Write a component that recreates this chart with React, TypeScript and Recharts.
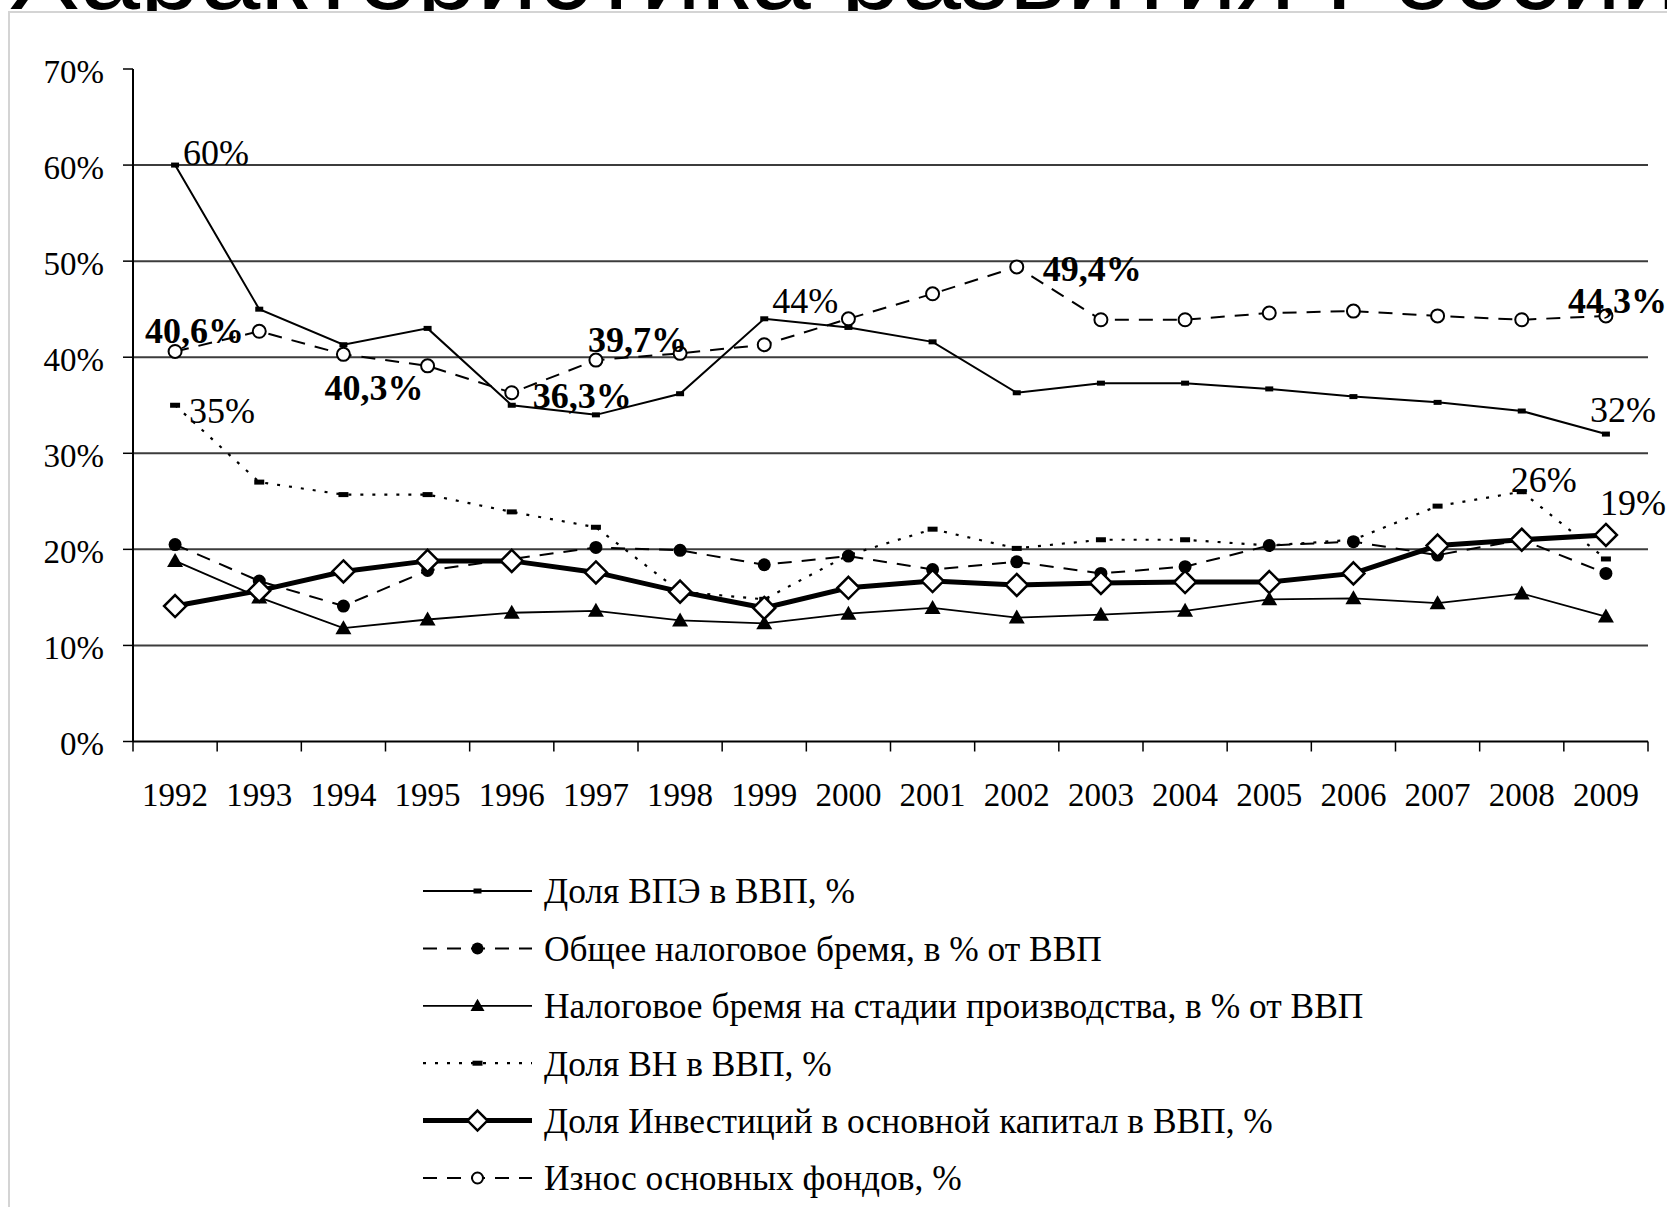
import React from 'react';
import { LineChart, Line, XAxis, YAxis, CartesianGrid, LabelList, Legend } from 'recharts';

// ---------- data ----------
const YEARS = ['1992', '1993', '1994', '1995', '1996', '1997', '1998', '1999', '2000', '2001', '2002', '2003', '2004', '2005', '2006', '2007', '2008', '2009'];
const VPE = [60, 45.0, 41.3, 43.0, 35.0, 34.0, 36.2, 44.0, 43.1, 41.6, 36.3, 37.3, 37.3, 36.7, 35.9, 35.3, 34.4, 32.0];
const TAX_TOTAL = [20.5, 16.7, 14.1, 17.8, 19.0, 20.2, 19.9, 18.4, 19.3, 17.9, 18.7, 17.5, 18.2, 20.4, 20.8, 19.4, 21.0, 17.5];
const TAX_PROD = [18.8, 15.0, 11.8, 12.7, 13.4, 13.6, 12.6, 12.3, 13.3, 13.9, 12.9, 13.2, 13.6, 14.8, 14.9, 14.4, 15.4, 13.0];
const SHADOW = [35, 27.0, 25.7, 25.7, 23.9, 22.3, 15.6, 14.8, 19.4, 22.1, 20.1, 21.0, 21.0, 20.4, 21.0, 24.5, 26, 19];
const INVEST = [14.1, 15.7, 17.7, 18.8, 18.8, 17.6, 15.6, 13.9, 16.0, 16.7, 16.3, 16.5, 16.6, 16.6, 17.5, 20.4, 21.0, 21.5];
const WEAR = [40.6, 42.7, 40.3, 39.1, 36.3, 39.7, 40.4, 41.3, 44.0, 46.6, 49.4, 43.9, 43.9, 44.6, 44.8, 44.3, 43.9, 44.3];

const Y_TICKS = [0, 10, 20, 30, 40, 50, 60, 70];
const GRID_VALUES = [10, 20, 30, 40, 50, 60];
const TITLE = 'Характеристика развития России';

const SERIES_NAMES = {
  vpe: 'Доля ВПЭ в ВВП, %',
  taxTotal: 'Общее налоговое бремя, в % от ВВП',
  taxProd: 'Налоговое бремя на стадии производства, в % от ВВП',
  shadow: 'Доля ВН в ВВП, %',
  invest: 'Доля Инвестиций в основной капитал в ВВП, %',
  wear: 'Износ основных фондов, %',
};

const ANNOTATIONS = [
  { id: 'vpe92', series: 'vpe', year: '1992', text: '60%', bold: false },
  { id: 'vpe99', series: 'vpe', year: '1999', text: '44%', bold: false },
  { id: 'vpe09', series: 'vpe', year: '2009', text: '32%', bold: false },
  { id: 'sh92', series: 'shadow', year: '1992', text: '35%', bold: false },
  { id: 'sh08', series: 'shadow', year: '2008', text: '26%', bold: false },
  { id: 'sh09', series: 'shadow', year: '2009', text: '19%', bold: false },
  { id: 'w92', series: 'wear', year: '1992', text: '40,6%', bold: true },
  { id: 'w94', series: 'wear', year: '1994', text: '40,3%', bold: true },
  { id: 'w96', series: 'wear', year: '1996', text: '36,3%', bold: true },
  { id: 'w97', series: 'wear', year: '1997', text: '39,7%', bold: true },
  { id: 'w02', series: 'wear', year: '2002', text: '49,4%', bold: true },
  { id: 'w09', series: 'wear', year: '2009', text: '44,3%', bold: true },
];

// ---------- styles ----------
const LABEL_OFFSETS: Record<string, { dx: number; dy: number }> = {
  vpe92: { dx: 8, dy: 0 },
  vpe99: { dx: 8, dy: -6 },
  vpe09: { dx: -16, dy: -12 },
  sh92: { dx: 14, dy: 18 },
  sh08: { dx: -11, dy: 0 },
  sh09: { dx: -6, dy: -44 },
  w92: { dx: -30, dy: -8 },
  w94: { dx: -19, dy: 46 },
  w96: { dx: 21, dy: 15 },
  w97: { dx: -8, dy: -8 },
  w02: { dx: 26, dy: 14 },
  w09: { dx: -38, dy: -3 },
};

const SERIF = 'Liberation Serif, Times New Roman, serif';
const SANS = 'Liberation Sans, Arial, sans-serif';
const FONT_SIZE = 33;
const LABEL_FONT_SIZE = 36;
const LEGEND_FONT_SIZE = 35.4;
const TICK_SIZE = 10;
const X_TICK_MARGIN = 31;
const PLOT_WIDTH = 1515;
const BAND = PLOT_WIDTH / 18;

const SERIES_STYLE = [
  { key: 'vpe', width: 2, dash: undefined as string | undefined, marker: 'smallDash' },
  { key: 'taxTotal', width: 2, dash: '14 10', marker: 'circleFilled' },
  { key: 'taxProd', width: 1.8, dash: undefined, marker: 'triangle' },
  { key: 'shadow', width: 2.2, dash: '3 9', marker: 'dash' },
  { key: 'invest', width: 5, dash: undefined, marker: 'diamond' },
  { key: 'wear', width: 2, dash: '14 10', marker: 'circleOpen' },
];

const data = YEARS.map((year, i) => ({
  year,
  vpe: VPE[i],
  taxTotal: TAX_TOTAL[i],
  taxProd: TAX_PROD[i],
  shadow: SHADOW[i],
  invest: INVEST[i],
  wear: WEAR[i],
}));

function Marker({ kind, cx, cy, small }: { kind: string; cx: number; cy: number; small?: boolean }) {
  if (cx == null || cy == null) return null;
  switch (kind) {
    case 'smallDash':
      return <rect x={cx - 4} y={cy - 2.5} width={8} height={5} fill="#000" />;
    case 'dash':
      return <rect x={cx - 5} y={cy - 2.5} width={10} height={5} fill="#000" />;
    case 'circleFilled':
      return <circle cx={cx} cy={cy} r={small ? 6 : 6.5} fill="#000" />;
    case 'circleOpen':
      return <circle cx={cx} cy={cy} r={small ? 5.5 : 6.5} fill="#fff" stroke="#000" strokeWidth={2} />;
    case 'triangle': {
      const h = small ? 7 : 8;
      return <polygon points={`${cx},${cy - h} ${cx - h},${cy + h * 0.75} ${cx + h},${cy + h * 0.75}`} fill="#000" />;
    }
    case 'diamond': {
      const s = small ? 10 : 11;
      return (
        <polygon
          points={`${cx},${cy - s} ${cx + s},${cy} ${cx},${cy + s} ${cx - s},${cy}`}
          fill="#fff"
          stroke="#000"
          strokeWidth={2.5}
        />
      );
    }
    default:
      return null;
  }
}

const makeLabel = (seriesKey: string) => (props: any) => {
  const idx = props.index;
  const x = props.x ?? props.viewBox?.x;
  const y = props.y ?? props.viewBox?.y;
  if (idx == null || x == null || y == null) return null;
  const ann = ANNOTATIONS.find((a) => a.series === seriesKey && a.year === YEARS[idx]);
  if (!ann) return null;
  const off = LABEL_OFFSETS[ann.id];
  return (
    <text
      key={`lbl-${ann.id}`}
      x={x + off.dx}
      y={y + off.dy}
      style={{ fontFamily: SERIF }}
      fontSize={LABEL_FONT_SIZE}
      fontWeight={ann.bold ? 'bold' : 'normal'}
      fill="#000"
    >
      {ann.text}
    </text>
  );
};

const XTick = (props: any) => {
  const { x, y, payload, index, visibleTicksCount } = props;
  const half = BAND / 2;
  const axisY = y - TICK_SIZE - X_TICK_MARGIN;
  const last = index === (visibleTicksCount ?? YEARS.length) - 1;
  return (
    <g>
      <line x1={x - half} x2={x - half} y1={axisY} y2={axisY + TICK_SIZE} stroke="#000" strokeWidth={1.5} />
      {last && <line x1={x + half} x2={x + half} y1={axisY} y2={axisY + TICK_SIZE} stroke="#000" strokeWidth={1.5} />}
      <text x={x} y={y} dy="0.71em" textAnchor="middle" style={{ fontFamily: SERIF }} fontSize={FONT_SIZE} fill="#000">
        {payload.value}
      </text>
    </g>
  );
};

const YTick = (props: any) => {
  const { x, y, payload } = props;
  return (
    <text x={x} y={y} dy="0.42em" textAnchor="end" style={{ fontFamily: SERIF }} fontSize={FONT_SIZE} fill="#000">
      {`${payload.value}%`}
    </text>
  );
};

const LEGEND_X1 = 423;
const LEGEND_X2 = 532;
const LEGEND_TEXT_X = 544;
const LEGEND_Y0 = 891;
const LEGEND_STEP = 57.4;

const LegendContent = () => (
  <svg width={1667} height={1207} style={{ position: 'absolute', left: 0, top: 0, pointerEvents: 'none' }}>
    {SERIES_STYLE.map((s, i) => {
      const cy = LEGEND_Y0 + i * LEGEND_STEP;
      const mx = (LEGEND_X1 + LEGEND_X2) / 2;
      return (
        <g key={s.key}>
          <line
            x1={LEGEND_X1}
            x2={LEGEND_X2}
            y1={cy}
            y2={cy}
            stroke="#000"
            strokeWidth={s.width}
            strokeDasharray={s.dash}
          />
          <Marker kind={s.marker} cx={mx} cy={cy} small />
          <text x={LEGEND_TEXT_X} y={cy} dy="0.35em" style={{ fontFamily: SERIF }} fontSize={LEGEND_FONT_SIZE} fill="#000">
            {(SERIES_NAMES as any)[s.key]}
          </text>
        </g>
      );
    })}
  </svg>
);

export default function App() {
  return (
    <div style={{ position: 'fixed', left: 0, top: 0, width: 1667, height: 1207, overflow: 'hidden', background: '#fff' }}>
      <svg width={1667} height={60} style={{ position: 'absolute', left: 0, top: 0 }}>
        <text x={8} y={9} style={{ fontFamily: SANS }} fontSize={108} fill="#000">
          {TITLE}
        </text>
      </svg>
      <div
        style={{
          position: 'absolute',
          left: 8,
          top: 11,
          width: 1700,
          height: 1250,
          borderLeft: '2px solid #d4d4d4',
          borderTop: '2px solid #d4d4d4',
          background: '#fff',
        }}
      />
      <div style={{ position: 'absolute', left: 0, top: 0 }}>
        <LineChart width={1667} height={1207} data={data} margin={{ top: 69, right: 19, left: 13, bottom: 405.5 }}>
          <CartesianGrid vertical={false} horizontalValues={GRID_VALUES} stroke="#3c3c3c" strokeWidth={2} />
          <XAxis
            dataKey="year"
            interval={0}
            height={60}
            padding={{ left: BAND / 2, right: BAND / 2 }}
            tickLine={false}
            tickSize={TICK_SIZE}
            tickMargin={X_TICK_MARGIN}
            axisLine={{ stroke: '#000', strokeWidth: 2 }}
            tick={<XTick />}
          />
          <YAxis
            domain={[0, 70]}
            ticks={Y_TICKS}
            width={120}
            tickSize={TICK_SIZE}
            tickMargin={19}
            axisLine={{ stroke: '#000', strokeWidth: 2 }}
            tickLine={{ stroke: '#000', strokeWidth: 1.5 }}
            tick={<YTick />}
            allowDataOverflow
          />
          <Legend
            content={<LegendContent />}
            wrapperStyle={{ position: 'absolute', left: 0, top: 0, bottom: 'auto', width: 0, height: 0, overflow: 'visible' }}
          />
          {SERIES_STYLE.map((s) => (
            <Line
              key={s.key}
              type="linear"
              dataKey={s.key}
              name={(SERIES_NAMES as any)[s.key]}
              stroke="#000"
              strokeWidth={s.width}
              strokeDasharray={s.dash}
              isAnimationActive={false}
              activeDot={false}
              dot={(p: any) => <Marker key={`${s.key}-${p.index}`} kind={s.marker} cx={p.cx} cy={p.cy} />}
            >
              <LabelList dataKey={s.key} content={makeLabel(s.key)} />
            </Line>
          ))}
        </LineChart>
      </div>
    </div>
  );
}
